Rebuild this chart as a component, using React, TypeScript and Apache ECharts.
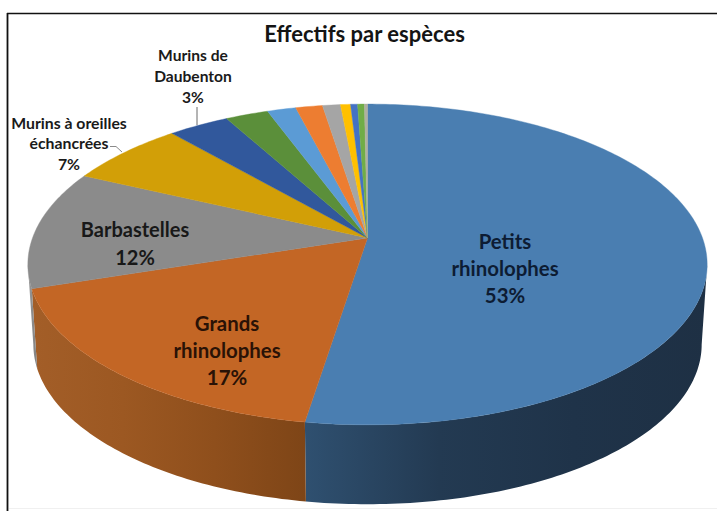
import React, { useEffect, useRef } from "react";
import * as echarts from "echarts";

const titleText = "Effectifs par espèces";
const categories = [
  "Petits rhinolophes", "Grands rhinolophes", "Barbastelles",
  "Murins à oreilles échancrées", "Murins de Daubenton",
  "Espèce 6", "Espèce 7", "Espèce 8", "Espèce 9", "Espèce 10", "Espèce 11", "Espèce 12", "Espèce 13",
];
const values = [52.5, 17.5, 12.0, 6.6, 3.4, 2.4, 1.6, 1.5, 1.0, 0.56, 0.39, 0.38, 0.17];
const topColors = [
  "#4a7eb1", "#c36625", "#8b8b8b", "#d29f07", "#31589c", "#5b8f3a",
  "#5b9bd5", "#ed7d31", "#a5a5a5", "#ffc000", "#4472c4", "#70ad47", "#b0b0a0",
];
const wallStops: Record<number, string[]> = {
  0: ["#2f5070", "#233a52", "#1f3349", "#1e3044"],
  1: ["#a35e28", "#9c5822", "#8f4f1c", "#7e4517"],
  2: ["#9a9a9a", "#7f7f7f"],
};
const labelTexts = [
  { lines: ["Petits", "rhinolophes", "53%"], x: 505, y: 241, lh: 27, size: 20.4, color: "#0d1c33" },
  { lines: ["Grands", "rhinolophes", "17%"], x: 227, y: 323, lh: 27, size: 20.4, color: "#2a1206" },
  { lines: ["Barbastelles", "12%"], x: 135, y: 229, lh: 28, size: 20, color: "#181818" },
  { lines: ["Murins à oreilles", "échancrées", "7%"], x: 69, y: 122, lh: 20.5, size: 15.8, color: "#1a1a1a" },
  { lines: ["Murins de", "Daubenton", "3%"], x: 193, y: 55, lh: 21, size: 15.6, color: "#1a1a1a" },
];

// Perspective projection of the pie disc
const CX = 367.5, APEX_Y = 238, RX = 335, RY = 156, K = 0.165;
const BOTTOM_CY = 318, BOTTOM_RX = 329.6, BOTTOM_RY = 155.5;
const total = values.reduce((a, b) => a + b, 0);
const project = (pct: number, cy: number, rx: number, ry: number) => {
  const t = (pct / total) * Math.PI * 2;
  const u = Math.sin(t), v = -Math.cos(t), w = 1 - K * v;
  return [CX + (rx * u) / w, cy + (ry * v) / w];
};
const arc = (a: number, b: number, cy: number, rx: number, ry: number) => {
  const n = Math.max(2, Math.ceil(Math.abs(b - a) * 4));
  const pts: number[][] = [];
  for (let i = 0; i <= n; i++) pts.push(project(a + ((b - a) * i) / n, cy, rx, ry));
  return pts;
};
const starts: number[] = [];
values.reduce((acc, v, i) => ((starts[i] = acc), acc + v), 0);
const FRONT_A = (99.5 / 360) * total, FRONT_B = (260.5 / 360) * total;

export default function App() {
  const ref = useRef<HTMLDivElement>(null);
  useEffect(() => {
    document.body.style.margin = "0";
    const chart = echarts.init(ref.current!, null, { renderer: "svg" });
    const rows = values.map((v, i) => [v, i]);
    chart.setOption({
      animation: false,
      backgroundColor: "#ffffff",
      title: {
        text: titleText, left: 359.5, top: 17, textAlign: "center",
        textStyle: { fontFamily: "Lato", fontWeight: "bold", fontSize: 22, color: "#141414" },
      },
      graphic: [
        { type: "line", shape: { x1: 7, y1: 13.5, x2: 717, y2: 13.5 }, style: { stroke: "#111", lineWidth: 1.6 } },
        { type: "line", shape: { x1: 7.5, y1: 13, x2: 7.5, y2: 511 }, style: { stroke: "#111", lineWidth: 1.8 } },
        { type: "line", shape: { x1: 9, y1: 508.5, x2: 717, y2: 508.5 }, style: { stroke: "#f0f0f0", lineWidth: 1 } },
        { type: "polyline", shape: { points: [[197, 107], [197, 125]] }, style: { stroke: "#6a6a6a", lineWidth: 1, fill: "none" }, z: 20 },
        { type: "polyline", shape: { points: [[110, 146.5], [116, 146.5], [122, 152]] }, style: { stroke: "#8a8a8a", lineWidth: 1, fill: "none" }, z: 20 },
      ],
      series: [
        {
          type: "custom", coordinateSystem: "none", silent: true, z: 2, data: rows,
          dimensions: ["value", "index"],
          renderItem: (_p: any, api: any) => {
            const i = api.value(1);
            const a = Math.max(starts[i], FRONT_A);
            const b = Math.min(starts[i] + api.value(0), FRONT_B);
            if (b <= a || !wallStops[i]) return { type: "group", children: [] };
            const pts = [...arc(a, b, APEX_Y, RX, RY), ...arc(b, a, BOTTOM_CY, BOTTOM_RX, BOTTOM_RY)];
            const stops = wallStops[i];
            const grad = new echarts.graphic.LinearGradient(0, 0, 1, 0,
              stops.map((c, j) => ({ offset: j / (stops.length - 1), color: c })));
            return { type: "polygon", shape: { points: pts }, style: { fill: grad, stroke: "none" } };
          },
        },
        {
          type: "custom", coordinateSystem: "none", silent: true, z: 3, data: rows,
          dimensions: ["value", "index"],
          renderItem: (_p: any, api: any) => {
            const i = api.value(1);
            const pts = [[CX, APEX_Y], ...arc(starts[i], starts[i] + api.value(0), APEX_Y, RX, RY)];
            return {
              type: "polygon", shape: { points: pts },
              style: { fill: topColors[i], stroke: topColors[i], lineWidth: 0.4 },
            };
          },
        },
        {
          type: "custom", coordinateSystem: "none", silent: true, z: 10, data: labelTexts.map((_, i) => [i]),
          renderItem: (_p: any, api: any) => {
            const l = labelTexts[api.value(0)];
            return {
              type: "group",
              children: l.lines.map((t, j) => ({
                type: "text",
                style: {
                  x: l.x, y: l.y + j * l.lh, text: t, fill: l.color, align: "center", verticalAlign: "middle",
                  font: `bold ${l.size}px Lato`,
                },
              })),
            };
          },
        },
      ],
    });
    return () => chart.dispose();
  }, []);
  return <div ref={ref} style={{ width: 717, height: 511 }} aria-label={categories.join(", ")} />;
}
